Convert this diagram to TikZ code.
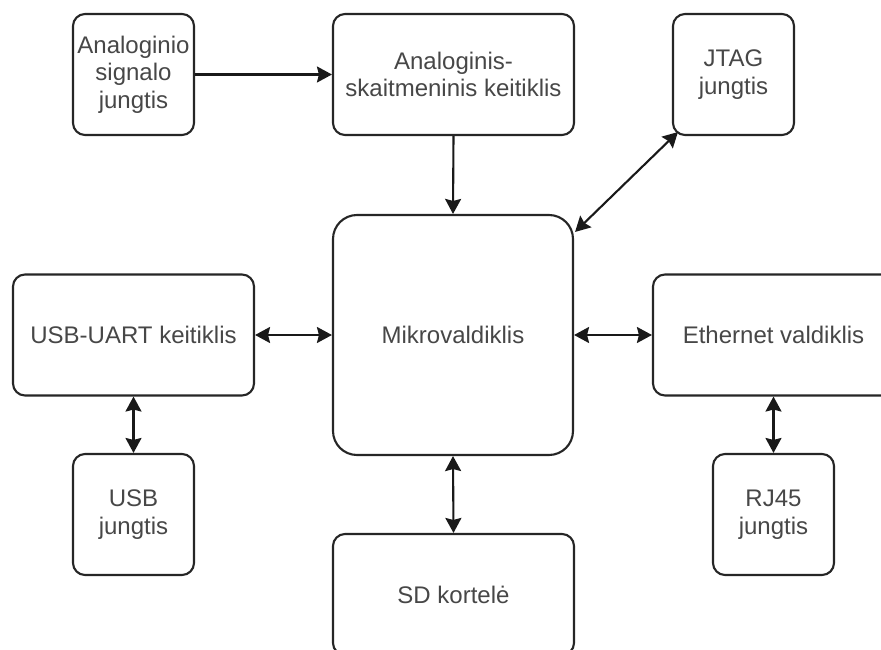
\documentclass[tikz,border=0pt]{standalone}
\usepackage{fontspec}
\setmainfont{Liberation Sans}
\usetikzlibrary{arrows.meta}
\begin{document}
\begin{tikzpicture}[x=1pt,y=-1pt,
  blk/.style={draw=black!85, line width=2.1pt, fill=white, rounded corners=12pt,
    inner sep=0pt, align=center, text=black!72,
    font=\fontsize{24}{27.5}\selectfont},
  sq/.style={blk, minimum width=121pt, minimum height=121pt},
  wide/.style={blk, minimum width=241pt, minimum height=121pt},
  big/.style={blk, minimum width=240pt, minimum height=240pt, rounded corners=24pt},
  tip/.tip={Stealth[length=15pt,width=16pt,inset=2pt]},
  conn/.style={line width=2.1pt, draw=black!90, arrows={-tip}},
  bidir/.style={conn, arrows={tip-tip}}
]
\useasboundingbox (0,0) rectangle (881,650);
\clip (0,0) rectangle (881,650);

% blocks
\node[sq]   (asj)  at (133.5,74.5)  {Analoginio\\signalo\\jungtis};
\node[wide] (adc)  at (453.5,74.5)  {Analoginis-\\skaitmeninis keitiklis};
\node[sq]   (jtag) at (733.5,74.5)  {JTAG\\jungtis};
\node[big]  (mcu)  at (453,335)     {Mikrovaldiklis};
\node[wide] (uart) at (133.5,335)   {USB-UART keitiklis};
\node[wide] (eth)  at (773.5,335)   {Ethernet valdiklis};
\node[sq]   (usb)  at (133.5,514.5) {USB\\jungtis};
\node[sq]   (rj)   at (773.5,514.5) {RJ45\\jungtis};
\node[wide] (sd)   at (453.5,594.5) {SD kortel\.e};

% connections
\draw[conn]  (asj.east) -- (adc.west);
\draw[conn]  (adc.south) -- (mcu.north);
\draw[bidir] ([xshift=1pt,yshift=-18pt]mcu.north east) -- ([xshift=6pt,yshift=4pt]jtag.south west);
\draw[bidir] (uart.east) -- (mcu.west);
\draw[bidir] (mcu.east) -- (eth.west);
\draw[bidir] (uart.south) -- (usb.north);
\draw[bidir] (eth.south) -- (rj.north);
\draw[bidir] (mcu.south) -- (sd.north);
\end{tikzpicture}
\end{document}
